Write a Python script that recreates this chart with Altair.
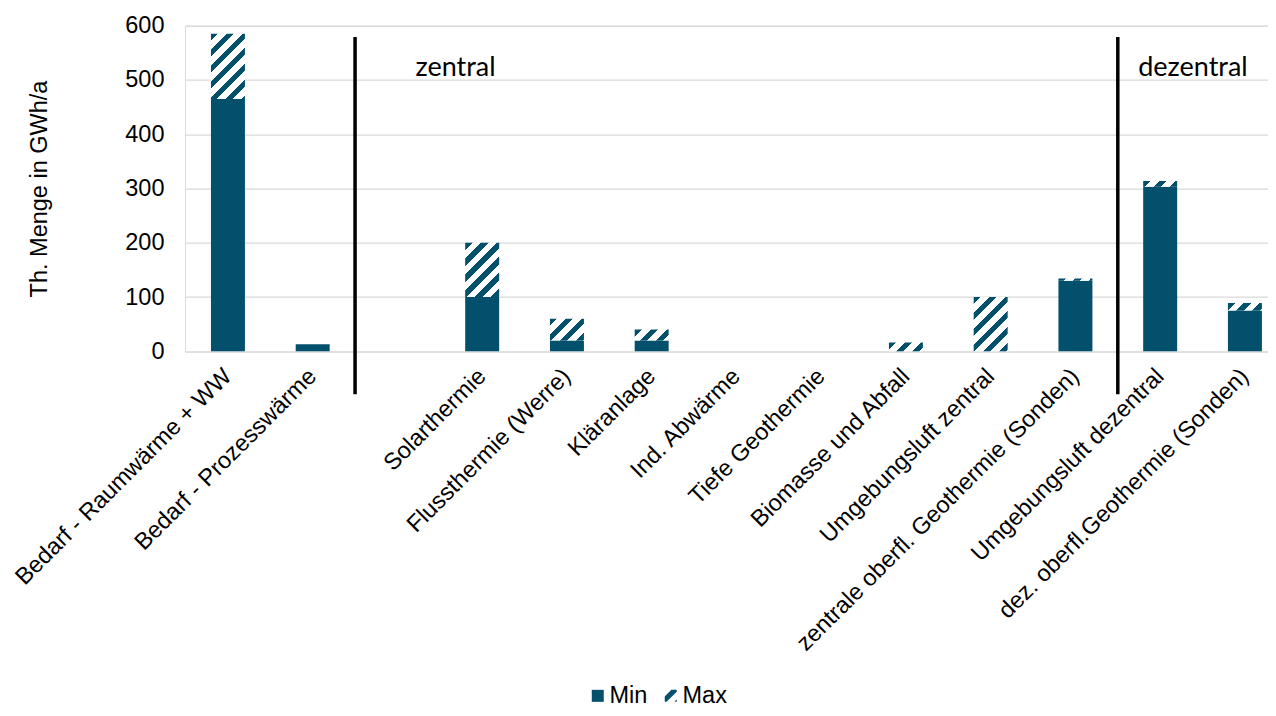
import altair as alt
import pandas as pd

# ---------------- data ----------------
categories = [
    "Bedarf - Raumwärme + WW",
    "Bedarf - Prozesswärme",
    " ",
    "Solarthermie",
    "Flussthermie (Werre)",
    "Kläranlage",
    "Ind. Abwärme",
    "Tiefe Geothermie",
    "Biomasse und Abfall",
    "Umgebungsluft zentral",
    "zentrale oberfl. Geothermie (Sonden)",
    "Umgebungsluft dezentral",
    "dez. oberfl.Geothermie (Sonden)",
]
min_vals = [465, 13, 0, 100, 20, 20, 0, 0, 0, 0, 130, 303, 75]
max_vals = [585, 13, 0, 200, 60, 40, 0, 0, 16, 100, 134, 314, 89]
series_names = ["Min", "Max"]

separator_cats = [" ", "Umgebungsluft dezentral"]
separator_bottom = [-79, -79]
separator_top = [579, 579]

section_labels = ["zentral", "dezentral"]
section_cats = [" ", "Umgebungsluft dezentral"]
section_y = [508, 508]
section_dx = [18, -22]

y_ticks = [0, 100, 200, 300, 400, 500, 600]

# ---------------- style ----------------
TEAL = "#02506B"
GRID = "#d9d9d9"
FONT = "Liberation Sans"
FS = 23.5
PLOT_W = 1083
PLOT_H = 325.6
Y_MAX = 600
STEP = 84.75
BAR_W = 34


def hatch_gradient(w, h, period=16.0, frac=0.45):
    a, b = 1.0 / h, 1.0 / w
    t = (a + b) / (a * a + b * b)
    n = (w + h) / period
    stops = []
    k = 0
    while k < n:
        o0 = k / n
        o1 = min((k + frac) / n, 1.0)
        o2 = min((k + 1) / n, 1.0)
        stops += [(o0, TEAL), (o1, TEAL), (o1, "#ffffff"), (o2, "#ffffff")]
        k += 1
    return {
        "gradient": "linear",
        "x1": 0, "y1": 0, "x2": t * a, "y2": t * b,
        "stops": [{"offset": round(o, 5), "color": c} for o, c in stops],
    }


HATCH_PATH = ("M-1,0.1 L0.1,-1 L1,-1 L1,-0.7 L-0.7,1 L-1,1 Z "
              "M0.6,1 L1,0.6 L1,1 Z")

df = pd.DataFrame({"cat": categories, "min": min_vals, "max": max_vals})

x_scale = alt.Scale(domain=categories, paddingInner=0.599, paddingOuter=0.189,
                    align=0.81, round=False)
y_scale = alt.Scale(domain=[0, Y_MAX], nice=False, zero=True)

x_axis = alt.Axis(title=None, labelAngle=-45, labelAlign="right", labelBaseline="middle",
                  labelFontSize=FS, labelFont=FONT, labelColor="#000000", labelPadding=21,
                  ticks=False, tickSize=0, domain=False, grid=False, labelLimit=1000,
                  labelOverlap=False)
y_axis = alt.Axis(title="Th. Menge in GWh/a", values=y_ticks, grid=True, gridColor=GRID,
                  gridWidth=1.3, domain=False, ticks=False, tickSize=0, labelPadding=21,
                  labelFontSize=FS, labelFont=FONT, labelColor="#000000",
                  titleFontSize=FS, titleFont=FONT, titleFontWeight="normal",
                  titleColor="#000000", titlePadding=73)

x_enc = alt.X("cat:N", scale=x_scale, sort=categories, axis=x_axis)

layers = []

# Min bars
layers.append(
    alt.Chart(df).mark_bar(fill=TEAL).encode(
        x=x_enc,
        y=alt.Y("min:Q", scale=y_scale, axis=y_axis),
    )
)

# Max (hatched) segments, one layer per bar so the hatch density stays even
for i, cat in enumerate(categories):
    lo, hi = min_vals[i], max_vals[i]
    if hi <= lo:
        continue
    h_px = (hi - lo) * PLOT_H / Y_MAX
    sub = df[df["cat"] == cat]
    layers.append(
        alt.Chart(sub).mark_bar(fill=hatch_gradient(BAR_W, h_px)).encode(
            x=x_enc,
            y=alt.Y("min:Q", scale=y_scale, axis=y_axis),
            y2="max:Q",
        )
    )

# separator lines
rule_df = pd.DataFrame({"cat": separator_cats, "lo": separator_bottom, "hi": separator_top})
layers.append(
    alt.Chart(rule_df).mark_rule(color="#000000", strokeWidth=3.5, xOffset=-STEP / 2,
                                 clip=False).encode(
        x=x_enc,
        y=alt.Y("lo:Q", scale=y_scale, axis=y_axis),
        y2="hi:Q",
    )
)

# section labels
for lab, cat, yv, dx in zip(section_labels, section_cats, section_y, section_dx):
    tdf = pd.DataFrame({"cat": [cat], "label": [lab], "y": [yv]})
    layers.append(
        alt.Chart(tdf).mark_text(align="left", baseline="alphabetic", dx=dx, font="Lato",
                                 fontSize=27, color="#000000").encode(
            x=x_enc,
            y=alt.Y("y:Q", scale=y_scale, axis=y_axis),
            text="label:N",
        )
    )

# legend carrier (invisible points)
leg_df = pd.DataFrame({"series": series_names, "cat": [categories[0]] * 2, "v": [0, 0]})
legend = alt.Legend(title=None, orient="none", legendX=401, legendY=658, direction="horizontal",
                    labelFontSize=FS, labelFont=FONT, labelColor="#000000", symbolSize=144,
                    symbolStrokeWidth=0, symbolOpacity=1, labelOffset=0, columnPadding=11,
                    padding=0)
layers.append(
    alt.Chart(leg_df).mark_point(filled=True, opacity=0).encode(
        x=x_enc,
        y=alt.Y("v:Q", scale=y_scale, axis=y_axis),
        color=alt.Color("series:N", scale=alt.Scale(domain=series_names, range=[TEAL, TEAL]),
                        legend=legend),
        shape=alt.Shape("series:N", scale=alt.Scale(domain=series_names,
                                                    range=["square", HATCH_PATH]),
                        legend=legend),
    )
)

chart = alt.layer(*layers).properties(
    width=PLOT_W,
    height=PLOT_H,
    autosize=alt.AutoSizeParams(type="none"),
    padding={"left": 177, "top": 17.7, "right": 0, "bottom": 356.7},
).configure_view(stroke=None).configure(background="#ffffff")

chart.save("out.html", embed_options={"renderer": "svg", "actions": False})
